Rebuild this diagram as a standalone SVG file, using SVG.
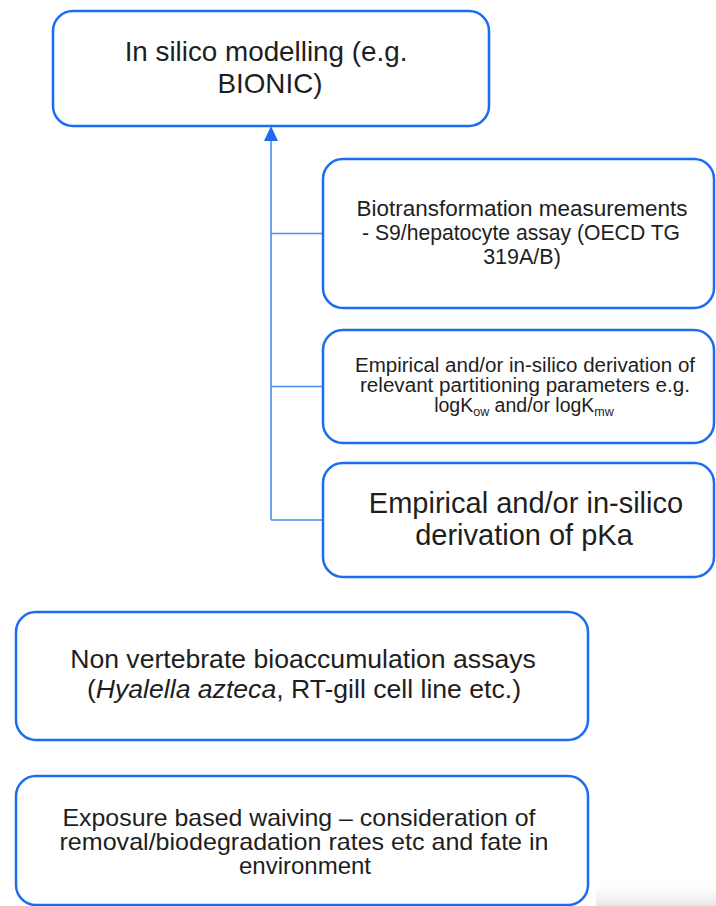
<svg xmlns="http://www.w3.org/2000/svg" width="716" height="906" viewBox="0 0 716 906">
<style>
.box{fill:#fff;stroke:#1b6cf0;stroke-width:2.5}
.t{font-family:"Liberation Sans",Arial,sans-serif;fill:#1e1e1e;text-anchor:middle}
.conn{stroke:#4a8cf2;stroke-width:1.6;fill:none}
</style>
<defs>
<linearGradient id="sh" x1="0" y1="0" x2="0" y2="1">
<stop offset="0" stop-color="#ffffff" stop-opacity="0"/>
<stop offset="1" stop-color="#e6e6e6"/>
</linearGradient>
</defs>
<rect width="716" height="906" fill="#fff"/>
<rect x="596" y="880" width="120" height="26" fill="url(#sh)"/>
<g id="connectors">
<line class="conn" x1="271" y1="520" x2="271" y2="140"/>
<path d="M264,141 L271,126 L278,141 Z" fill="#1b6cf0"/>
<line class="conn" x1="271" y1="233.5" x2="323" y2="233.5"/>
<line class="conn" x1="271" y1="386.5" x2="323" y2="386.5"/>
<line class="conn" x1="271" y1="520" x2="323" y2="520"/>
</g>
<g id="node-insilico">
<rect class="box" x="53" y="11" width="436" height="115" rx="20"/>
<text class="t" font-size="27.8"><tspan x="266" y="61">In silico modelling (e.g.</tspan><tspan x="270" y="93">BIONIC)</tspan></text>
</g>
<g id="node-biotransformation">
<rect class="box" x="323" y="159" width="391" height="149" rx="20"/>
<text class="t" font-size="21.5"><tspan x="522" y="216" textLength="331" lengthAdjust="spacingAndGlyphs">Biotransformation measurements</tspan><tspan x="521" y="240" textLength="318" lengthAdjust="spacingAndGlyphs">- S9/hepatocyte assay (OECD TG</tspan><tspan x="522" y="264">319A/B)</tspan></text>
</g>
<g id="node-partitioning">
<rect class="box" x="323" y="330" width="391" height="113" rx="20"/>
<text class="t" font-size="19.5"><tspan x="525" y="372" textLength="340" lengthAdjust="spacingAndGlyphs">Empirical and/or in-silico derivation of</tspan><tspan x="525" y="391.5" textLength="330" lengthAdjust="spacingAndGlyphs">relevant partitioning parameters e.g.</tspan></text>
<text class="t" font-size="19.5" x="524" y="411.5">logK<tspan font-size="12.5" dy="4">ow</tspan><tspan dy="-4"> and/or logK</tspan><tspan font-size="12.5" dy="4">mw</tspan></text>
</g>
<g id="node-pka">
<rect class="box" x="323" y="463" width="391" height="114" rx="20"/>
<text class="t" font-size="29"><tspan x="526" y="513">Empirical and/or in-silico</tspan><tspan x="524" y="545">derivation of pKa</tspan></text>
</g>
<g id="node-nonvertebrate">
<rect class="box" x="16" y="612" width="572" height="128" rx="20"/>
<text class="t" font-size="26.6"><tspan x="303" y="668">Non vertebrate bioaccumulation assays</tspan><tspan x="304" y="698">(<tspan font-style="italic">Hyalella azteca</tspan>, RT-gill cell line etc.)</tspan></text>
</g>
<g id="node-exposure">
<rect class="box" x="16" y="776" width="572" height="129" rx="20"/>
<text class="t" font-size="24"><tspan x="299" y="826" textLength="473" lengthAdjust="spacingAndGlyphs">Exposure based waiving – consideration of</tspan><tspan x="304" y="850" textLength="489" lengthAdjust="spacingAndGlyphs">removal/biodegradation rates etc and fate in</tspan><tspan x="305" y="874">environment</tspan></text>
</g>
</svg>
